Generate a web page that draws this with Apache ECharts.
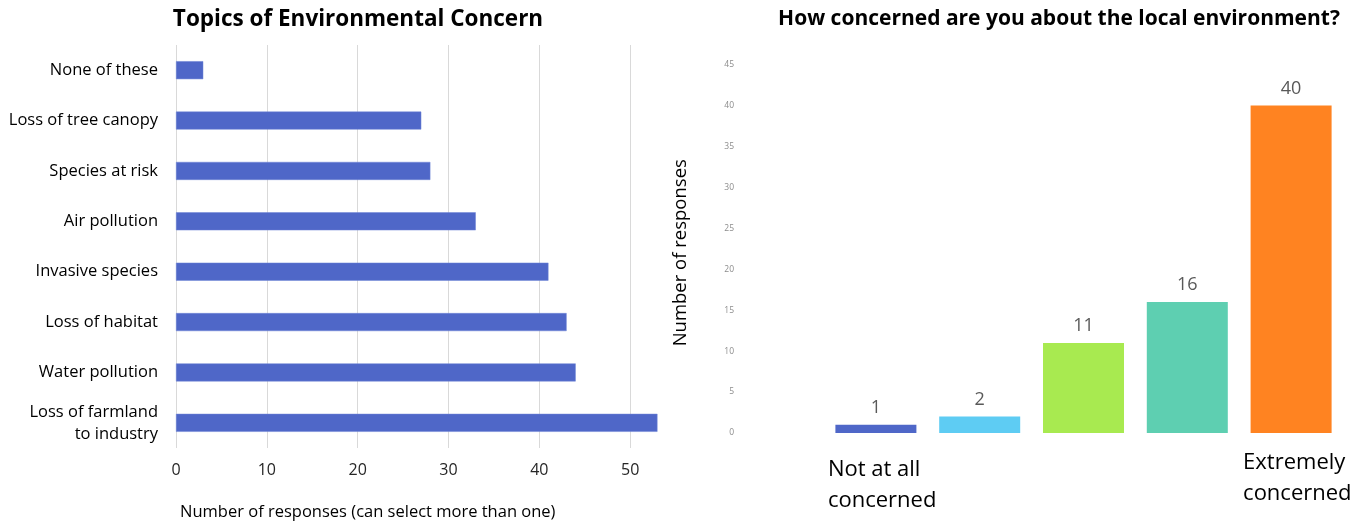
<!DOCTYPE html>
<html>
<head>
<meta charset="utf-8">
<script src="https://cdn.jsdelivr.net/npm/echarts@6/dist/echarts.min.js"></script>
<style>
  html, body { margin: 0; padding: 0; background: #fff; }
  #chart { width: 1365px; height: 524px; }
</style>
</head>
<body>
<div id="chart"></div>
<script>
// Topics of environmental concern (multiple choice)
const topicNames = [
  'None of these',
  'Loss of tree canopy',
  'Species at risk',
  'Air pollution',
  'Invasive species',
  'Loss of habitat',
  'Water pollution',
  'Loss of farmland\nto industry'
];
const topicCounts = [3, 27, 28, 33, 41, 43, 44, 53];

// Level of concern about the local environment
const concernLevels = ['Not at all\nconcerned', '', '', '', 'Extremely\nconcerned'];
const concernCounts = [1, 2, 11, 16, 40];
const concernColors = ['#4F67C8', '#5ECCF3', '#A8EA50', '#5ECFB1', '#FF8321'];

const FONT = '"Open Sans", sans-serif';

const chart = echarts.init(document.getElementById('chart'));
chart.setOption({
  animation: false,
  textStyle: { fontFamily: FONT },
  title: [
    {
      text: 'Topics of Environmental Concern',
      left: 353, top: 3, textAlign: 'center',
      textStyle: { fontSize: 22.5, fontWeight: 'bold', color: '#000', fontFamily: FONT }
    },
    {
      text: 'How concerned are you about the local environment?',
      left: 1054, top: 4, textAlign: 'center',
      textStyle: { fontSize: 21, fontWeight: 'bold', color: '#000', fontFamily: FONT }
    },
    {
      text: 'Number of responses (can select more than one)',
      left: 175, top: 499,
      textStyle: { fontSize: 16.5, fontWeight: 'normal', color: '#000', fontFamily: FONT }
    }
  ],
  grid: [
    { left: 176, top: 45, width: 486, height: 403 },
    { left: 824, top: 64.5, width: 519, height: 368.5 }
  ],
  xAxis: [
    {
      gridIndex: 0, type: 'value', min: 0, max: 53.5, interval: 10,
      axisLine: { show: false }, axisTick: { show: false },
      splitLine: { show: true, showMaxLine: false, lineStyle: { color: '#d9d9d9', width: 1 } },
      axisLabel: { showMaxLabel: false, margin: 14, fontSize: 16, color: '#262626' }
    },
    {
      gridIndex: 1, type: 'category', data: concernLevels,
      axisLine: { show: false }, axisTick: { show: false },
      axisLabel: {
        interval: 0, margin: 14,
        formatter: function (v, i) {
          if (!v) return '';
          const lines = v.split('\n');
          const tag = i === 0 ? 'lo' : 'hi';
          return lines.map(l => '{' + tag + '|' + l + '}').join('\n');
        },
        rich: {
          lo: { fontSize: 22, lineHeight: 31, color: '#000', width: 108, align: 'left',
                padding: [14, 0, 0, 12], fontFamily: FONT },
          hi: { fontSize: 22, lineHeight: 31, color: '#000', width: 108, align: 'left',
                padding: [0, 0, 0, 12], fontFamily: FONT }
        }
      }
    }
  ],
  yAxis: [
    {
      gridIndex: 0, type: 'category', data: topicNames, inverse: true,
      axisLine: { show: false }, axisTick: { show: false },
      axisLabel: { margin: 18, fontSize: 16.5, lineHeight: 22, color: '#000' }
    },
    {
      gridIndex: 1, type: 'value', min: 0, max: 45, interval: 5,
      name: 'Number of responses', nameLocation: 'middle', nameGap: 134,
      nameTextStyle: { fontSize: 18.5, color: '#000', padding: [0, 8, 0, 0] },
      axisLine: { show: false }, axisTick: { show: false },
      splitLine: { show: false },
      axisLabel: { margin: 90, fontSize: 8.5, color: '#8c8c8c' }
    }
  ],
  series: [
    {
      type: 'bar', xAxisIndex: 0, yAxisIndex: 0,
      data: topicCounts, barWidth: 18,
      itemStyle: { color: '#4F67C8', borderColor: '#6F84D6', borderWidth: 0.5 }
    },
    {
      type: 'bar', xAxisIndex: 1, yAxisIndex: 1,
      data: concernCounts.map((v, i) => ({ value: v, itemStyle: { color: concernColors[i] } })),
      barWidth: 81,
      label: { show: true, position: 'top', distance: 8, fontSize: 18, color: '#595959' }
    }
  ]
});
</script>
</body>
</html>
